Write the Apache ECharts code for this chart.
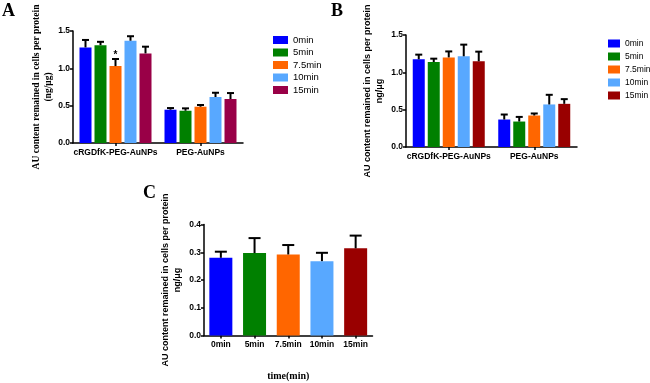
<!DOCTYPE html>
<html>
<head>
<meta charset="utf-8">
<script src="https://cdn.jsdelivr.net/npm/echarts@6/dist/echarts.min.js"></script>
<style>
html, body { margin: 0; padding: 0; background: #fff; }
.panel { position: absolute; left: 0; top: 0; width: 650px; height: 383px; }
</style>
</head>
<body>
<div id="chartA" class="panel"></div>
<div id="chartB" class="panel"></div>
<div id="chartC" class="panel"></div>
<script>
// categories
var groups = ['cRGDfK-PEG-AuNPs', 'PEG-AuNPs'];
var times = ['0min', '5min', '7.5min', '10min', '15min'];

// panel A: one row per time point, [cRGDfK-PEG-AuNPs, PEG-AuNPs]
var meanA = [[1.28, 0.446], [1.31, 0.432], [1.03, 0.486], [1.37, 0.616], [1.20, 0.589]];
var errA  = [[0.10, 0.022], [0.045, 0.032], [0.095, 0.023], [0.06, 0.057], [0.09, 0.08]];
// 7.5min cRGDfK bar carries a "*"
var starA = [[0, 0], [0, 0], [1, 0], [0, 0], [0, 0]];

// panel B
var meanB = [[1.175, 0.368], [1.138, 0.341], [1.20, 0.422], [1.215, 0.570], [1.148, 0.578]];
var errB  = [[0.062, 0.067], [0.045, 0.062], [0.08, 0.027], [0.156, 0.129], [0.129, 0.063]];

// panel C
var meanC = [0.280, 0.297, 0.292, 0.268, 0.314];
var errC  = [0.022, 0.054, 0.034, 0.030, 0.046];

var colorsA = ['#0000ff', '#008000', '#ff6600', '#58a8ff', '#990047'];
var colorsBC = ['#0000ff', '#008000', '#ff6600', '#58a8ff', '#990000'];

var BAR_W = 12, BAR_GAP = 3;

// upper error bar (+ optional star), offset by series index
function errorSeries(data, step, cap, lw) {
  return {
    type: 'custom',
    z: 5,
    silent: true,
    data: data,
    renderItem: function (params, api) {
      var c = api.value(0), m = api.value(1), e = api.value(2), s = api.value(3), star = api.value(4);
      var base = api.coord([c, m]);
      var top = api.coord([c, m + e]);
      var x = base[0] + (s - 2) * step;
      var style = { stroke: '#000', lineWidth: lw };
      var kids = [
        { type: 'line', shape: { x1: x, y1: base[1], x2: x, y2: top[1] }, style: style },
        { type: 'line', shape: { x1: x - cap, y1: top[1], x2: x + cap, y2: top[1] }, style: style }
      ];
      if (star) {
        kids.push({ type: 'text', style: { text: '*', x: x, y: top[1] + 1, align: 'center', verticalAlign: 'bottom',
          font: 'bold 10px "Liberation Sans"', fill: '#000' } });
      }
      return { type: 'group', children: kids };
    }
  };
}

function axisStyle() {
  return {
    axisLine: { show: true, lineStyle: { color: '#000', width: 1.5 } },
    axisTick: { show: true, length: 3, lineStyle: { color: '#000', width: 1.5 } },
    splitLine: { show: false }
  };
}

function groupedOption(grid, legendPos, colors, means, errs, stars, yName, yNameFont, yNameGap, letter, letterPos) {
  var series = [];
  var errData = [];
  times.forEach(function (t, s) {
    series.push({
      name: t, type: 'bar', barWidth: BAR_W, barGap: (BAR_GAP / BAR_W * 100) + '%',
      itemStyle: { color: colors[s] },
      data: means[s]
    });
    groups.forEach(function (g, c) {
      errData.push([c, means[s][c], errs[s][c], s, stars ? stars[s][c] : 0]);
    });
  });
  series.push(errorSeries(errData, BAR_W + BAR_GAP, 3.5, 2));
  var ya = axisStyle();
  var xa = axisStyle();
  return {
    animation: false,
    color: colors,
    grid: grid,
    legend: Object.assign({
      orient: 'vertical', itemWidth: legendPos.w, itemHeight: 8, itemGap: legendPos.gap,
      icon: 'rect', data: times,
      textStyle: { fontSize: legendPos.fs, fontFamily: 'Liberation Sans', color: '#000' }
    }, legendPos.pos),
    graphic: [{ type: 'text', left: letterPos[0], top: letterPos[1],
      style: { text: letter, font: 'bold 18px "Liberation Serif"', fill: '#000' } }],
    xAxis: {
      type: 'category', data: groups,
      axisLine: xa.axisLine,
      axisTick: { show: true, alignWithLabel: true, length: 3, lineStyle: { color: '#000', width: 1.5 } },
      axisLabel: { interval: 0, color: '#000', fontWeight: 'bold', fontSize: 8.5, fontFamily: 'Liberation Sans', margin: 5 }
    },
    yAxis: {
      type: 'value', min: 0, max: 1.5, interval: 0.5,
      axisLine: ya.axisLine, axisTick: ya.axisTick, splitLine: ya.splitLine,
      axisLabel: { color: '#000', fontWeight: 'bold', fontSize: 8.5, fontFamily: 'Liberation Sans', margin: 3,
        formatter: function (v) { return v.toFixed(1); } },
      name: yName, nameLocation: 'middle', nameRotate: 90, nameGap: yNameGap,
      nameTextStyle: Object.assign({ color: '#000', fontWeight: 'bold', lineHeight: 12 }, yNameFont)
    },
    series: series
  };
}

var chartA = echarts.init(document.getElementById('chartA'));
chartA.setOption(groupedOption(
  { left: 73, top: 31, width: 170, height: 112 },
  { w: 15, fs: 9.5, gap: 2.5, pos: { left: 268, top: 30 } },
  colorsA, meanA, errA, starA,
  'AU content remained in cells per protein\n(ng/\u03bcg)',
  { fontFamily: 'Liberation Serif', fontSize: 9.5 }, 16,
  'A', [2, 2]
));

var chartB = echarts.init(document.getElementById('chartB'));
chartB.setOption(groupedOption(
  { left: 406, top: 35, width: 171, height: 112 },
  { w: 12, fs: 8.5, gap: 4, pos: { left: 603, top: 34 } },
  colorsBC, meanB, errB, null,
  'AU content remained in cells per protein\nng/\u03bcg',
  { fontFamily: 'Liberation Sans', fontSize: 9 }, 20,
  'B', [331, 2]
));

// panel C: single series over time
var chartC = echarts.init(document.getElementById('chartC'));
var errDataC = meanC.map(function (m, i) { return [i, m, errC[i], 2, 0]; });
var ca = axisStyle();
chartC.setOption({
  animation: false,
  grid: { left: 204, top: 224.5, width: 168.5, height: 111 },
  graphic: [{ type: 'text', left: 143, top: 184,
    style: { text: 'C', font: 'bold 18px "Liberation Serif"', fill: '#000' } }],
  xAxis: {
    type: 'category', data: times,
    axisLine: ca.axisLine,
    axisTick: { show: true, alignWithLabel: true, length: 3, lineStyle: { color: '#000', width: 1.5 } },
    axisLabel: { interval: 0, color: '#000', fontWeight: 'bold', fontSize: 8.5, fontFamily: 'Liberation Sans', margin: 5 },
    name: 'time(min)', nameLocation: 'middle', nameGap: 36,
    nameTextStyle: { color: '#000', fontWeight: 'bold', fontSize: 10, fontFamily: 'Liberation Serif' }
  },
  yAxis: {
    type: 'value', min: 0, max: 0.4, interval: 0.1,
    axisLine: ca.axisLine, axisTick: ca.axisTick, splitLine: ca.splitLine,
    axisLabel: { color: '#000', fontWeight: 'bold', fontSize: 8.5, fontFamily: 'Liberation Sans', margin: 3,
      formatter: function (v) { return v.toFixed(1); } },
    name: 'AU content remained in cells per protein\nng/\u03bcg', nameLocation: 'middle', nameRotate: 90, nameGap: 20,
    nameTextStyle: { color: '#000', fontWeight: 'bold', fontSize: 9, fontFamily: 'Liberation Sans', lineHeight: 12 }
  },
  series: [
    {
      type: 'bar', barWidth: 23,
      data: meanC.map(function (v, i) { return { value: v, itemStyle: { color: colorsBC[i] } }; })
    },
    errorSeries(errDataC, 0, 6, 2)
  ]
});
</script>
</body>
</html>
